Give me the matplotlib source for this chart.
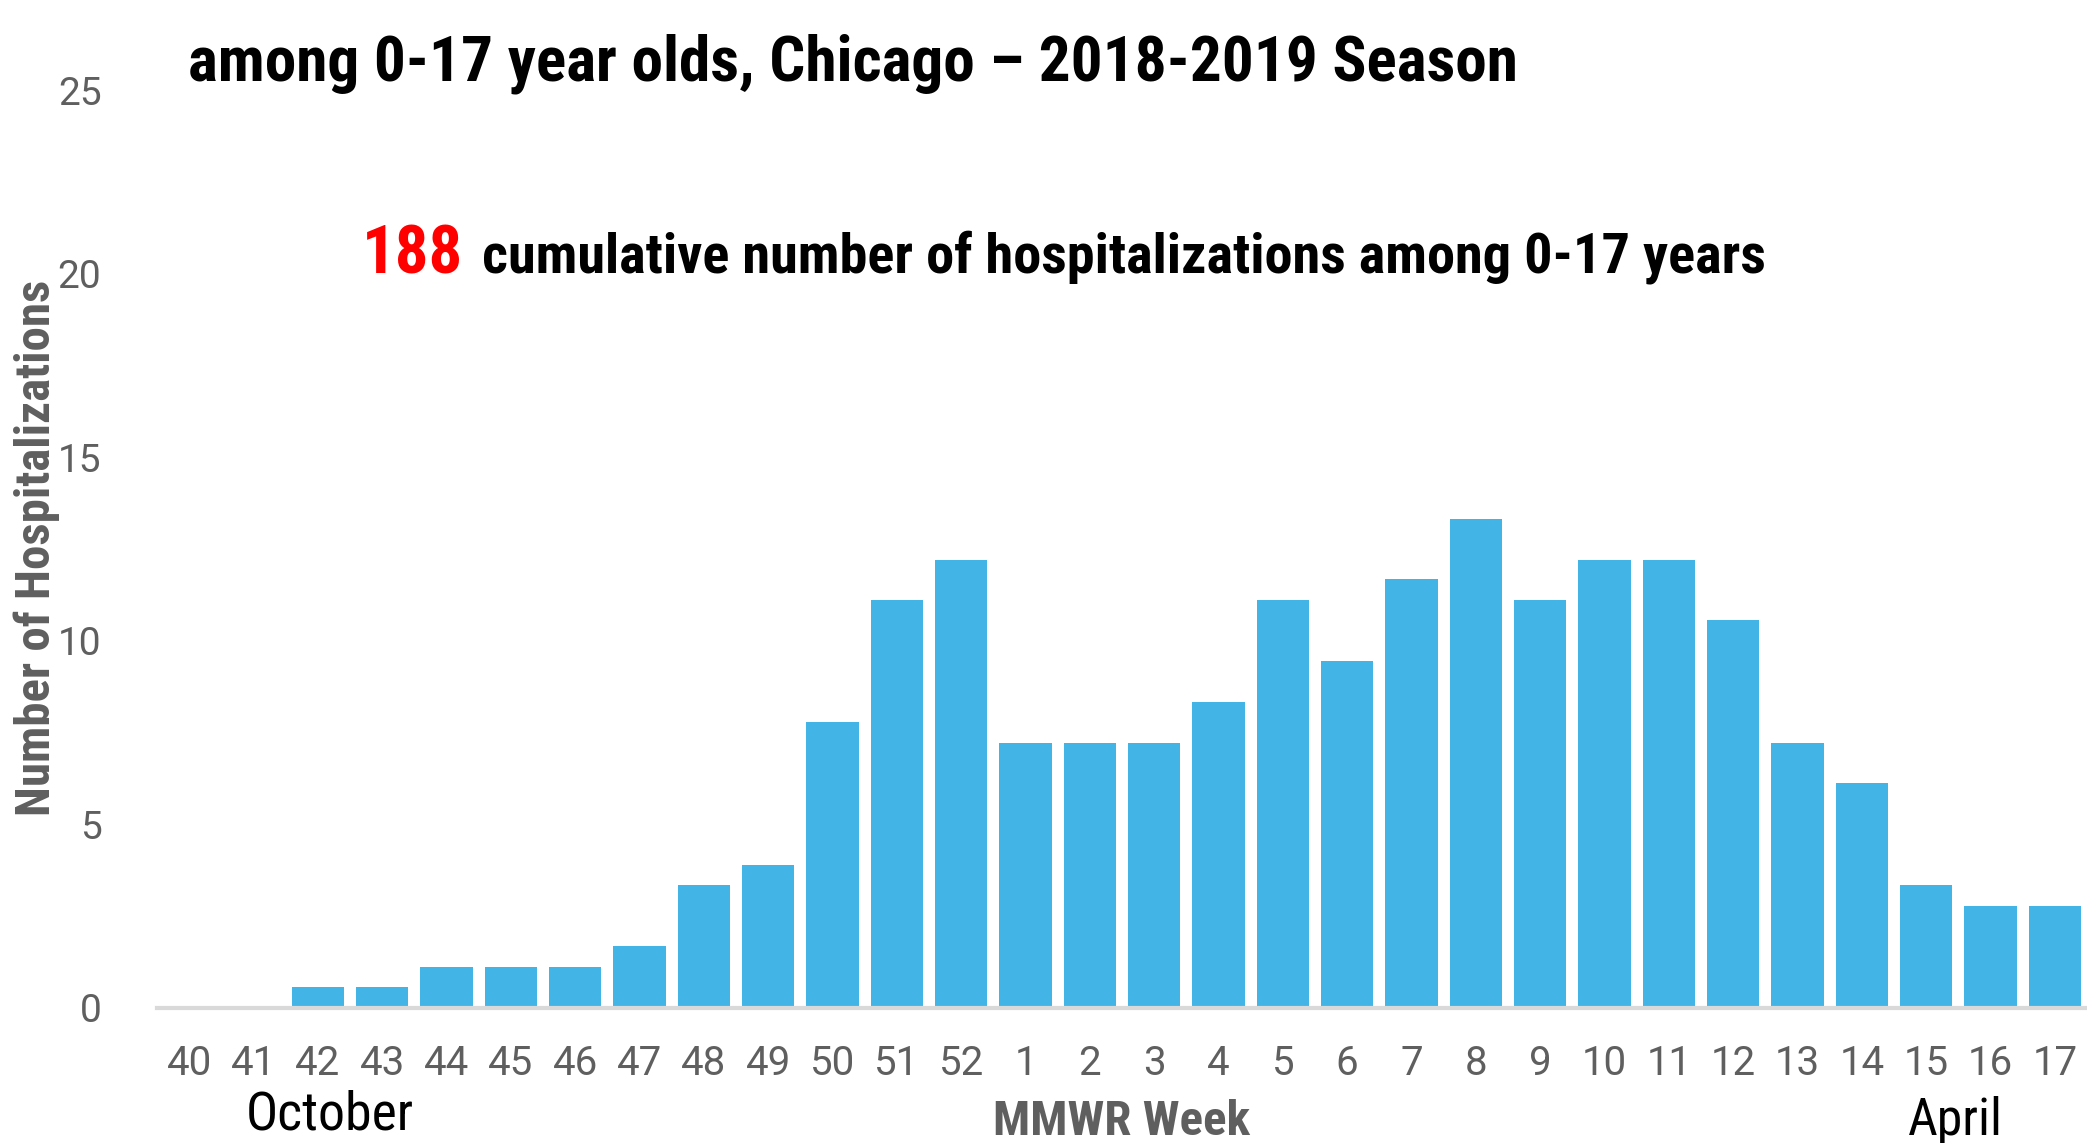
import numpy as np
import matplotlib
matplotlib.use("Agg")
import matplotlib.pyplot as plt

weeks = ["40", "41", "42", "43", "44", "45", "46", "47", "48", "49", "50", "51", "52",
         "1", "2", "3", "4", "5", "6", "7", "8", "9", "10", "11", "12", "13", "14",
         "15", "16", "17"]
hosp = [0, 0, 0.55, 0.55, 1.1, 1.1, 1.1, 1.67, 3.33, 3.89, 7.78, 11.1, 12.2,
        7.22, 7.22, 7.22, 8.33, 11.1, 9.44, 11.67, 13.33, 11.1, 12.2, 12.2,
        10.56, 7.22, 6.11, 3.33, 2.78, 2.78]
yticks = [0, 5, 10, 15, 20, 25]

W, H = 2087, 1143
narrow = ["Liberation Sans Narrow", "Roboto Condensed", "DejaVu Sans"]
plain = ["Roboto", "DejaVu Sans"]

fig = plt.figure(figsize=(W / 100, H / 100), dpi=100)
ax = fig.add_axes([157 / W, 135.4 / H, 1 - 157 / W, (1007.6 - 90.5) / H])

x = np.arange(len(weeks))
ax.bar(x, hosp, width=0.81, color="#42b4e6", zorder=2)
ax.set_xlim(-0.5, len(weeks) - 0.5)
ax.set_ylim(0, 25)
ax.set_yticks(yticks)
ax.set_xticks(x)
ax.set_xticklabels(weeks)
ax.tick_params(length=0, labelsize=28, colors="#5f5f5f", pad=40)
ax.tick_params(axis="x", pad=26, labelsize=29)
for lab in ax.get_xticklabels() + ax.get_yticklabels():
    lab.set_family(plain)
for s in ["top", "right", "left"]:
    ax.spines[s].set_visible(False)
ax.spines["bottom"].set_color("#d9d9d9")
ax.spines["bottom"].set_linewidth(3)
ax.spines["bottom"].set_zorder(3)

renderer = fig.canvas.get_renderer()


def fit(t, target):
    # scale a text so its drawn width matches the reference
    w = t.get_window_extent(renderer).width
    t.set_fontsize(t.get_fontsize() * target / w)
    return t


fit(fig.text(188 / W, 1 - 80 / H, "among 0-17 year olds, Chicago \u2013 2018-2019 Season",
             family=narrow, weight="bold", fontsize=40, color="black", va="baseline"), 1327)
fit(fig.text(362 / W, 1 - 273 / H, "188", family=narrow, weight="bold", fontsize=60,
             color="#ff0000", va="baseline"), 101)
fit(fig.text(482 / W, 1 - 273 / H, "cumulative number of hospitalizations among 0-17 years",
             family=narrow, weight="bold", fontsize=40, color="black", va="baseline"), 1282)

fit(fig.text(330 / W, 1 - 1115 / H, "October", family=narrow, fontsize=36,
             color="black", ha="center", va="center"), 168)
fit(fig.text(1955 / W, 1 - 1121 / H, "April", family=narrow, fontsize=36,
             color="black", ha="center", va="center"), 95)
fit(fig.text(1122 / W, 1 - 1122 / H, "MMWR Week", family=narrow, weight="bold", fontsize=34,
             color="#5f5f5f", ha="center", va="center"), 258)
yl = fig.text(37 / W, 1 - 548 / H, "Number of Hospitalizations", family=narrow, weight="bold",
              fontsize=33, color="#5f5f5f", ha="center", va="center", rotation=90)
h = yl.get_window_extent(renderer).height
yl.set_fontsize(33 * 536 / h)

fig.savefig("out.png", dpi=100)
